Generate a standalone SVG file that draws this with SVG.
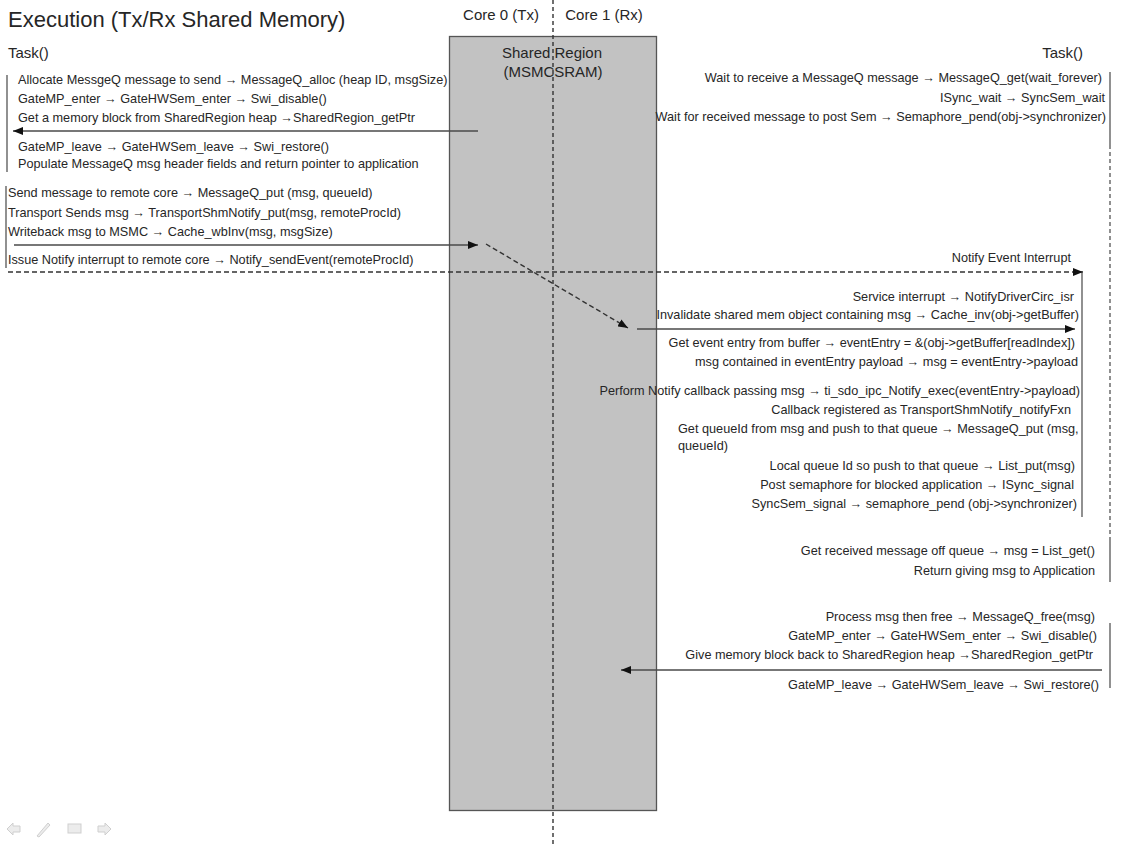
<svg xmlns="http://www.w3.org/2000/svg" width="1123" height="847" viewBox="0 0 1123 847">
  <style>
    text { font-family: "Liberation Sans", Arial, sans-serif; fill: #262626; }
    .title { font-size: 22px; }
    .task { font-size: 15px; }
    .core { font-size: 15px; }
    .region { font-size: 15px; }
    .body { font-size: 12.7px; }
    .end { text-anchor: end; }
    .mid { text-anchor: middle; }
    .life { stroke: #555; stroke-width: 1.3; fill: none; }
    .lifedash { stroke: #555; stroke-width: 1.3; fill: none; stroke-dasharray: 4 3; }
    .flow { stroke: #4a4a4a; stroke-width: 1.6; fill: none; }
    .flowdash { stroke: #333; stroke-width: 1.4; fill: none; stroke-dasharray: 5 3; }
    .split { stroke: #333; stroke-width: 1.4; fill: none; stroke-dasharray: 4 3; }
    .navicon { fill: #ececec; stroke: #cfcfcf; stroke-width: 1; }
  </style>
  <defs>
    <marker id="head" viewBox="0 0 10 8" refX="10" refY="4" markerWidth="10" markerHeight="8" markerUnits="userSpaceOnUse" orient="auto">
      <path d="M0,0 L10,4 L0,8 z" fill="#111"/>
    </marker>
  </defs>

  <rect width="1123" height="847" fill="#ffffff"/>

  <!-- heading and core labels -->
  <g id="heading">
    <text class="title" x="8" y="27">Execution (Tx/Rx Shared Memory)</text>
    <text class="core mid" x="501" y="20">Core 0 (Tx)</text>
    <text class="core mid" x="604" y="20">Core 1 (Rx)</text>
  </g>

  <!-- shared memory region between the two cores -->
  <g id="shared-region">
    <rect x="449.5" y="36.5" width="207" height="774" fill="#c2c2c2" stroke="#555" stroke-width="1.3"/>
    <text class="region mid" x="552" y="58">Shared Region</text>
    <text class="region mid" x="553" y="77">(MSMCSRAM)</text>
  </g>

  <!-- core boundary -->
  <line class="split" x1="553" y1="0" x2="553" y2="847"/>

  <!-- transmitting task on core 0 -->
  <g id="tx-task">
    <text class="task" x="8" y="58">Task()</text>
    <line class="life" x1="7" y1="75" x2="7" y2="172"/>
    <text class="body" x="18" y="84">Allocate MessgeQ message to send → MessageQ_alloc (heap ID, msgSize)</text>
    <text class="body" x="18" y="103">GateMP_enter → GateHWSem_enter → Swi_disable()</text>
    <text class="body" x="18" y="122">Get a memory block from SharedRegion heap →SharedRegion_getPtr</text>
    <text class="body" x="18" y="151">GateMP_leave → GateHWSem_leave → Swi_restore()</text>
    <text class="body" x="18" y="168">Populate MessageQ msg header fields and return pointer to application</text>

    <line class="life" x1="6" y1="186" x2="6" y2="268"/>
    <text class="body" x="8" y="197">Send message to remote core → MessageQ_put (msg, queueId)</text>
    <text class="body" x="8" y="217">Transport Sends msg → TransportShmNotify_put(msg, remoteProcId)</text>
    <text class="body" x="8" y="236">Writeback msg to MSMC → Cache_wbInv(msg, msgSize)</text>
    <text class="body" x="8" y="264">Issue Notify interrupt to remote core → Notify_sendEvent(remoteProcId)</text>
  </g>

  <!-- receiving task on core 1 -->
  <g id="rx-task">
    <text class="task end" x="1083" y="58">Task()</text>
    <line class="life" x1="1110" y1="72" x2="1110" y2="145"/>
    <line class="lifedash" x1="1110" y1="145" x2="1110" y2="540"/>
    <line class="life" x1="1110" y1="540" x2="1110" y2="582"/>
    <text class="body end" x="1102" y="82">Wait to receive a MessageQ message → MessageQ_get(wait_forever)</text>
    <text class="body end" x="1105" y="102">ISync_wait → SyncSem_wait</text>
    <text class="body end" x="1106" y="121">Wait for received message to post Sem → Semaphore_pend(obj-&gt;synchronizer)</text>

    <text class="body end" x="1095" y="555">Get received message off queue → msg = List_get()</text>
    <text class="body end" x="1095" y="575">Return giving msg to Application</text>

    <line class="life" x1="1110" y1="623" x2="1110" y2="688"/>
    <text class="body end" x="1095" y="621">Process msg then free → MessageQ_free(msg)</text>
    <text class="body end" x="1097" y="640">GateMP_enter → GateHWSem_enter → Swi_disable()</text>
    <text class="body end" x="1093" y="659">Give memory block back to SharedRegion heap →SharedRegion_getPtr</text>
    <text class="body end" x="1099" y="689">GateMP_leave → GateHWSem_leave → Swi_restore()</text>
  </g>

  <!-- notify interrupt service on core 1 -->
  <g id="rx-isr">
    <line class="life" x1="1082" y1="273" x2="1082" y2="517"/>
    <text class="body end" x="1071" y="262">Notify Event Interrupt</text>
    <text class="body end" x="1074" y="301">Service interrupt → NotifyDriverCirc_isr</text>
    <text class="body end" x="1079" y="319">Invalidate shared mem object containing msg → Cache_inv(obj-&gt;getBuffer)</text>
    <text class="body end" x="1075" y="347">Get event entry from buffer → eventEntry = &amp;(obj-&gt;getBuffer[readIndex])</text>
    <text class="body end" x="1078" y="366">msg contained in eventEntry payload → msg = eventEntry-&gt;payload</text>
    <text class="body end" x="1080" y="395">Perform Notify callback passing msg → ti_sdo_ipc_Notify_exec(eventEntry-&gt;payload)</text>
    <text class="body end" x="1071" y="414">Callback registered as TransportShmNotify_notifyFxn</text>
    <text class="body" x="678" y="433">Get queueId from msg and push to that queue → MessageQ_put (msg,</text>
    <text class="body" x="678" y="450">queueId)</text>
    <text class="body end" x="1075" y="470">Local queue Id so push to that queue → List_put(msg)</text>
    <text class="body end" x="1074" y="489">Post semaphore for blocked application → ISync_signal</text>
    <text class="body end" x="1077" y="508">SyncSem_signal → semaphore_pend (obj-&gt;synchronizer)</text>
  </g>

  <!-- message flow -->
  <g id="connectors">
    <line class="flow" x1="478" y1="131" x2="13" y2="131" marker-end="url(#head)"/>
    <line class="flow" x1="14" y1="245" x2="478" y2="245" marker-end="url(#head)"/>
    <line class="flowdash" x1="486" y1="244" x2="628" y2="328" marker-end="url(#head)"/>
    <line class="flowdash" x1="8" y1="272" x2="1083" y2="272" marker-end="url(#head)"/>
    <line class="flow" x1="637" y1="329" x2="1075" y2="329" marker-end="url(#head)"/>
    <line class="flow" x1="1102" y1="670" x2="621" y2="670" marker-end="url(#head)"/>
  </g>

  <!-- slide navigation buttons -->
  <g id="nav">
    <path class="navicon" d="M7,829 L13,823 L13,826 L20,826 L20,832 L13,832 L13,835 z"/>
    <path class="navicon" d="M37,836 L48,823 L50,825 L39,837 z"/>
    <rect class="navicon" x="68" y="824" width="13" height="9"/>
    <path class="navicon" d="M111,829 L105,823 L105,826 L98,826 L98,832 L105,832 L105,835 z"/>
  </g>
</svg>
